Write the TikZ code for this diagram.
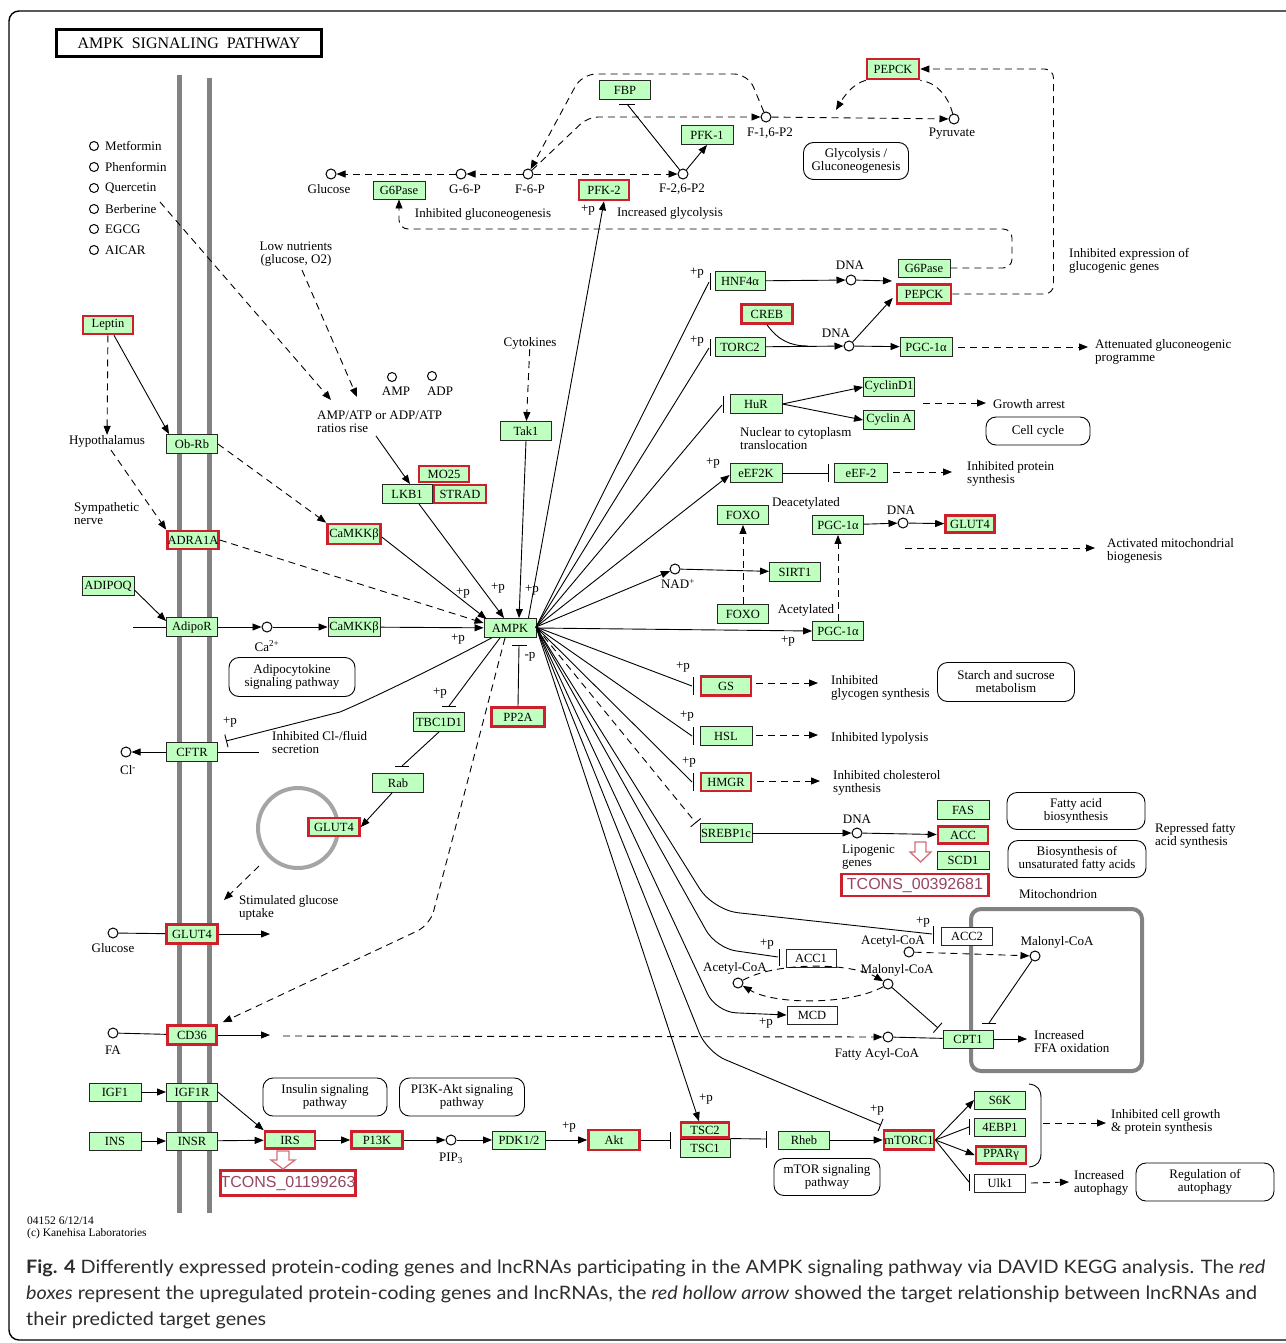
\documentclass[tikz,border=0pt]{standalone}
\usepackage{fontspec}
\usepackage{graphicx}
\setmainfont{Liberation Serif}
\newfontfamily\capfont{Lato}
\newfontfamily\tcfont{Liberation Sans}
\usetikzlibrary{arrows.meta,calc}
\definecolor{kgreen}{RGB}{191,255,191}
\definecolor{kred}{RGB}{205,32,44}
\definecolor{mgray}{RGB}{130,130,130}
\definecolor{vgray}{RGB}{165,165,165}
\definecolor{tcol}{RGB}{150,70,100}
\definecolor{hol}{RGB}{215,110,120}
\definecolor{capcol}{RGB}{45,45,45}
\tikzset{
  kf/.style={font=\fontsize{12.5}{12.5}\selectfont},
  lf/.style={font=\fontsize{13}{13}\selectfont},
  gene/.style={draw=black!85, fill=kgreen, line width=0.9pt, inner sep=0pt, minimum height=19pt, kf},
  rgene/.style={gene, draw=kred, line width=2.6pt, minimum height=18pt},
  wgene/.style={gene, fill=white},
  lbl/.style={inner sep=0pt, lf, align=left},
  lblc/.style={inner sep=0pt, lf, align=center},
  cpd/.style={circle, draw=black, fill=white, line width=1pt, minimum size=10pt, inner sep=0pt},
  mapbox/.style={draw, rounded corners=10pt, line width=0.9pt, inner sep=0pt, lf, align=center},
  ln/.style={line width=0.9pt},
  arr/.style={ln, -{Triangle[length=9pt,width=7pt]}},
  dsh/.style={ln, dash pattern=on 7pt off 5pt},
  darr/.style={dsh, -{Triangle[length=9pt,width=7pt]}},
  inh/.style={ln, -{Bar[width=13pt,line width=0.9pt]}},
  dinh/.style={dsh, -{Bar[width=13pt,line width=0.9pt]}},
  hollow/.style={draw=hol, fill=white, line width=1.3pt, line join=miter},
  tcons/.style={draw=kred, line width=2.6pt, fill=white, inner sep=0pt, minimum height=22pt, font=\tcfont\fontsize{16}{16}\selectfont, text=tcol},
}
\newcommand\kvbar[3]{\draw[ln] (#1,#2) -- (#1,#3);}
\newcommand\khbar[3]{\draw[ln] (#2,#1) -- (#3,#1);}
\begin{document}
\begin{tikzpicture}[x=1pt,y=-1pt]
\useasboundingbox (0,0) rectangle (1285,1343);
\fill[white] (0,0) rectangle (1285,1343);
\draw[line width=1.4pt, rounded corners=10pt] (9,11) rectangle (1310,1340);
\node[draw, line width=2.4pt, minimum width=265pt, minimum height=27pt, inner sep=0pt] (title) at (189,43) {\fontsize{16}{16}\selectfont AMPK\enspace SIGNALING\enspace PATHWAY};
% membranes
\draw[mgray, line width=5pt] (179,75) -- (179,1213);
\draw[mgray, line width=5pt] (209,78) -- (209,1213);
% drugs
\foreach \y/\t in {146/Metformin,167/Phenformin,188/Quercetin,209/Berberine,229/EGCG,250/AICAR} {
  \node[cpd, minimum size=9pt] (drug\y) at (94,\y) {};
  \node[lbl, anchor=west] (drugl\y) at (105,\y) {\t};
}
\node[lblc] (lown) at (296,254) {Low nutrients\\(glucose, O2)};
\coordinate (q1) at (160,202);
\coordinate (q2) at (331,400);
\coordinate (l1) at (302,270);
\coordinate (l2) at (357,397);
\draw[darr] (q1) -- (q2);
\draw[darr] (l1) -- (l2);
\node[cpd, minimum size=9pt] (amp) at (392,377) {};
\node[lbl] (ampl) at (396,391) {AMP};
\node[cpd, minimum size=9pt] (adp) at (432,376) {};
\node[lbl] (adpl) at (440,391) {ADP};
\node[lbl, anchor=west] (ratio) at (317,422) {AMP/ATP or ADP/ATP\\ratios rise};

% ===== top glycolysis =====
\node[rgene, minimum width=52pt, minimum height=20pt] (pepckT) at (893,69) {PEPCK};
\node[gene, minimum width=51pt] (fbp) at (625,90) {FBP};
\node[gene, minimum width=52pt] (pfk1) at (707,135) {PFK-1};
\node[cpd] (f16) at (766,117) {};
\node[lbl] (f16l) at (770,133) {F-1,6-P2};
\node[cpd] (pyr) at (954,119) {};
\node[lbl] (pyrl) at (952,134) {Pyruvate};
\node[mapbox, minimum width=105pt, minimum height=37pt] (glyb) at (856,161) {Glycolysis /\\Gluconeogenesis};
\node[cpd] (glc1) at (331,174) {};
\node[lbl] (glc1l) at (329,189) {Glucose};
\node[gene, minimum width=52pt, minimum height=18pt] (g6pT) at (399,190) {G6Pase};
\node[cpd] (g6p) at (461,174) {};
\node[lbl] (g6pl) at (465,189) {G-6-P};
\node[cpd] (f6p) at (528,174) {};
\node[lbl] (f6pl) at (530,189) {F-6-P};
\node[rgene, minimum width=50pt, minimum height=20pt] (pfk2) at (604,190) {PFK-2};
\node[cpd] (f26) at (683,174) {};
\node[lbl] (f26l) at (682,189) {F-2,6-P2};
\node[lbl] (inhg) at (483,214) {Inhibited gluconeogenesis};
\node[lbl] (pp0) at (588,210) {+p};
\node[lbl] (incg) at (670,213) {Increased glycolysis};
\draw[darr] (f6p) -- (g6p);
\draw[darr] (g6p) -- (glc1);
\draw[darr] (f6p) -- (f26);
\draw[arr] (f26) -- (pfk1.south);
\coordinate (fbpbar) at (627,104);
\draw[ln] (f26) -- (fbpbar);
\draw[ln] ($(fbpbar)+(-8,0)$) -- ($(fbpbar)+(8,0)$);
\draw[darr, rounded corners=10pt] (f6p) -- (588,117) -- (f16);
\draw[darr, rounded corners=14pt] (f16) -- (748,74) -- (582,74) -- (f6p);
\draw[darr] (f16) -- (pyr);
\coordinate (pe1) at (836,110);
\draw[dsh] (pyr) .. controls (948,95) and (935,82) .. (pepckT.south east);
\draw[darr] (pepckT.south west) .. controls (852,84) and (843,98) .. (pe1);

% ===== right upper =====
\node[gene, minimum width=50pt] (hnf) at (740,281) {HNF4α};
\node[rgene, minimum width=51pt, minimum height=19pt] (creb) at (767,314) {CREB};
\node[gene, minimum width=50pt] (torc2) at (740,347) {TORC2};
\node[cpd] (dna1) at (851,280) {};
\node[lbl] (dna1l) at (850,265) {DNA};
\node[cpd] (dna2) at (849,346) {};
\node[lbl] (dna2l) at (836,333) {DNA};
\node[gene, minimum width=52pt, minimum height=18pt] (g6pL) at (924,268) {G6Pase};
\node[rgene, minimum width=54pt, minimum height=19pt] (pepckL) at (924,294) {PEPCK};
\node[gene, minimum width=52pt] (pgc1) at (926,347) {PGC-1α};
\node[lbl] (pp1) at (697,273) {+p};
\node[lbl] (pp2) at (697,341) {+p};
\node[lbl, anchor=west] (inhexp) at (1069,261) {Inhibited expression of\\glucogenic genes};
\node[lbl, anchor=west] (attg) at (1095,352) {Attenuated gluconeogenic\\programme};
\coordinate (gp) at (892,281);
\draw[arr] (hnf) -- (dna1);
\draw[arr] (dna1) -- (gp);
\draw[arr] (torc2) -- (dna2);
\draw[arr] (dna2) -- (pgc1);
\draw[arr] (dna2) -- ($(pepckL.west)+(-3,4)$);
\draw[ln] (creb.south) .. controls (778,340) and (790,346) .. (808,346);
\coordinate (att1) at (958,347);
\coordinate (att2) at (1088,347);
\draw[darr] (att1) -- (att2);
\draw[darr, rounded corners=9pt] (pepckL.east) -- (1053.5,294) -- (1053.5,69) -- (pepckT.east);
\draw[darr, rounded corners=9pt] (g6pL.east) -- (1012,268) -- (1012,229) -- (399,229) -- (g6pT.south);

\node[gene, minimum width=52pt] (hur) at (756,404) {HuR};
\node[gene, minimum width=51pt] (cycd1) at (889,387) {CyclinD1};
\node[gene, minimum width=51pt] (cyca) at (889,420) {Cyclin A};
\node[lbl, anchor=west] (grow) at (993,404) {Growth arrest};
\node[mapbox, minimum width=104pt, minimum height=28pt] (ccb) at (1038,431) {Cell cycle};
\node[lbl, anchor=west] (nuc) at (740,439) {Nuclear to cytoplasm\\translocation};
\draw[arr] (hur.east) -- (cycd1.west);
\draw[arr] (hur.east) -- (cyca.west);
\coordinate (ga1) at (923,403);
\coordinate (ga2) at (986,403);
\draw[darr] (ga1) -- (ga2);

\node[gene, minimum width=52pt] (eef2k) at (756,473) {eEF2K};
\node[gene, minimum width=53pt] (eef2) at (861,473) {eEF-2};
\node[lbl] (pp3) at (713,463) {+p};
\node[lbl, anchor=west] (inhps) at (967,474) {Inhibited protein\\synthesis};
\draw[ln] (eef2k) -- (828,473);
\kvbar{828}{464}{482}
\coordinate (ps1) at (893,472);
\coordinate (ps2) at (952,472);
\draw[darr] (ps1) -- (ps2);

\node[gene, minimum width=51pt] (foxo1) at (743,515) {FOXO};
\node[lbl] (deac) at (806,503) {Deacetylated};
\node[gene, minimum width=51pt] (pgc2) at (838,525) {PGC-1α};
\node[cpd] (dna3) at (903,523) {};
\node[lbl] (dna3l) at (901,510) {DNA};
\node[rgene, minimum width=49pt, minimum height=17pt] (glut4a) at (970,524) {GLUT4};
\node[lbl, anchor=west] (actm) at (1107,551) {Activated mitochondrial\\biogenesis};
\coordinate (am1) at (905,548);
\coordinate (am2) at (1095,548);
\draw[darr] (am1) -- (am2);
\draw[arr] (pgc2) -- (dna3);
\draw[arr] (dna3) -- (glut4a);
\node[gene, minimum width=51pt] (sirt1) at (795,572) {SIRT1};
\node[cpd] (nad) at (675,569) {};
\node[lbl] (nadl) at (678,584) {NAD\textsuperscript{+}};
\draw[arr] (nad) -- (sirt1);
\node[gene, minimum width=51pt] (foxo2) at (743,614) {FOXO};
\node[lbl] (acet) at (806,610) {Acetylated};
\node[gene, minimum width=51pt] (pgc3) at (838,631) {PGC-1α};
\node[lbl] (pp4) at (788,641) {+p};
\draw[darr] (foxo2) -- (foxo1);
\draw[darr] (pgc3) -- (pgc2);

% ===== right middle =====
\node[rgene, minimum width=50pt, minimum height=19pt] (gs) at (726,686) {GS};
\node[gene, minimum width=52pt] (hsl) at (726,736) {HSL};
\node[rgene, minimum width=50pt, minimum height=18pt] (hmgr) at (726,782) {HMGR};
\node[gene, minimum width=52pt] (srebp) at (726,833) {SREBP1c};
\node[lbl] (pp5) at (683,667) {+p};
\node[lbl] (pp6) at (687,716) {+p};
\node[lbl] (pp7) at (689,762) {+p};
\node[lbl, anchor=west] (inhgs) at (831,688) {Inhibited\\glycogen synthesis};
\node[mapbox, minimum width=137pt, minimum height=39pt] (starch) at (1006,682) {Starch and sucrose\\metabolism};
\node[lbl, anchor=west] (inhl) at (831,738) {Inhibited lypolysis};
\node[lbl, anchor=west] (inhc) at (833,783) {Inhibited cholesterol\\synthesis};
\draw[darr] (gs.east) ++(4,-3) -- (818,683);
\draw[darr] (hsl.east) ++(4,-1) -- (818,735);
\draw[darr] (hmgr.east) ++(5,-1) -- (820,781);
\node[cpd] (dna4) at (857,833) {};
\node[lbl] (dna4l) at (857,819) {DNA};
\node[gene, minimum width=52pt] (fas) at (963,810) {FAS};
\node[rgene, minimum width=50pt, minimum height=17pt] (acc) at (963,835) {ACC};
\node[gene, minimum width=52pt, minimum height=18pt] (scd1) at (963,860) {SCD1};
\node[lbl, anchor=west] (lipo) at (842,857) {Lipogenic\\genes};
\draw[arr] (srebp) -- (dna4);
\draw[arr] (dna4) -- (acc);
\draw[hollow] (915,842) -- (926,842) -- (926,852) -- (931,852) -- (920.5,862) -- (910,852) -- (915,852) -- cycle;
\node[tcons, minimum width=147pt] (tc1) at (915,885) {TCONS\_00392681};
\node[mapbox, minimum width=138pt, minimum height=37pt] (fab) at (1076,811) {Fatty acid\\biosynthesis};
\node[mapbox, minimum width=138pt, minimum height=37pt] (ufab) at (1077,859) {Biosynthesis of\\unsaturated fatty acids};
\node[lbl, anchor=west] (repf) at (1155,836) {Repressed fatty\\acid synthesis};
\node[lbl] (mitol) at (1058,894) {Mitochondrion};

% ===== mitochondrion =====
\node[draw=mgray, line width=4pt, rounded corners=10pt, minimum width=171pt, minimum height=162pt, inner sep=0pt] (mito) at (1056.5,990) {};
\node[wgene, minimum width=51pt, minimum height=18pt] (acc2) at (967,936) {ACC2};
\node[lbl] (pp8) at (923,922) {+p};
\node[lbl] (acoa1) at (893,941) {Acetyl-CoA};
\node[cpd] (ac1) at (909,952) {};
\node[cpd] (mal1) at (1035,956) {};
\node[lbl] (mcoa1) at (1057,942) {Malonyl-CoA};
\draw[darr] (ac1) -- (mal1);
\draw[ln] (mal1) -- (989,1023);
\khbar{1023}{982}{996}
\node[wgene, minimum width=50pt, minimum height=18pt] (acc1) at (811,958) {ACC1};
\node[lbl] (pp9) at (767,944) {+p};
\node[lbl] (acoa2) at (735,968) {Acetyl-CoA};
\node[cpd] (ac2) at (738,983) {};
\node[lbl] (mcoa2) at (897,970) {Malonyl-CoA};
\node[cpd] (mal2) at (888,984) {};
\draw[darr] (ac2) .. controls (775,962) and (850,962) .. (mal2);
\draw[darr] (mal2) .. controls (850,1005) and (775,1005) .. (ac2);
\node[wgene, minimum width=50pt, minimum height=18pt] (mcd) at (812,1015) {MCD};
\node[lbl] (pp10) at (766,1023) {+p};
\node[cpd] (fac) at (888,1037) {};
\node[lbl] (facl) at (877,1054) {Fatty Acyl-CoA};
\node[gene, minimum width=50pt, minimum height=18pt] (cpt1) at (968,1039) {CPT1};
\draw[inh] (mal2) -- (938,1028);
\draw[ln] (fac) -- (cpt1);
\coordinate (ffa) at (1027,1039);
\draw[arr] (cpt1) -- (ffa);
\node[lbl, anchor=west] (incffa) at (1034,1042) {Increased\\FFA oxidation};

% ===== left =====
\node[rgene, minimum width=50pt] (leptin) at (108,325) {Leptin};
\node[lbl] (hypo) at (107,441) {Hypothalamus};
\node[gene, minimum width=51pt] (obrb) at (192,444) {Ob-Rb};
\node[lbl, anchor=west] (symp) at (74,514) {Sympathetic\\nerve};
\node[rgene, minimum width=51pt] (adra) at (193,540) {ADRA1A};
\node[rgene, minimum width=53pt, minimum height=20pt] (camkkR) at (354,534) {CaMKKβ};
\node[gene, minimum width=52pt] (adipoq) at (108,586) {ADIPOQ};
\node[gene, minimum width=51pt] (adipor) at (192,627) {AdipoR};
\node[cpd] (ca) at (267,627) {};
\node[lbl] (cal) at (267,646) {Ca\textsuperscript{2+}};
\node[gene, minimum width=52pt] (camkkG) at (354,627) {CaMKKβ};
\node[gene, minimum width=52pt] (ampk) at (510,628) {AMPK};
\node[gene, minimum width=50pt] (lkb1) at (407,494) {LKB1};
\node[rgene, minimum width=52pt, minimum height=18pt] (strad) at (460,494) {STRAD};
\node[rgene, minimum width=50pt, minimum height=16pt] (mo25) at (444,474) {MO25};
\node[lbl] (cyto) at (530,343) {Cytokines};
\node[gene, minimum width=51pt] (tak1) at (526,431) {Tak1};
\node[mapbox, minimum width=126pt, minimum height=39pt] (adipob) at (292,677) {Adipocytokine\\signaling pathway};
\node[lbl] (pp11) at (463,593) {+p};
\node[lbl] (pp12) at (498,588) {+p};
\node[lbl] (pp13) at (532,590) {+p};
\node[lbl] (pp14) at (458,639) {+p};
\coordinate (rr) at (376,436);
\draw[arr] (rr) -- ($(lkb1.north)+(3,0)$);
\draw[darr] (leptin) -- (hypo);
\draw[arr] ($(leptin.south)+(6,0)$) -- ($(obrb.north west)+(3,0)$);
\draw[darr] ($(hypo.south)+(4,3)$) -- (adra.north west);
\draw[darr] (obrb.east) -- (camkkR.north west);
\draw[darr] (adra.east) -- ($(ampk.west)+(0,-5)$);
\draw[arr] ($(camkkR.east)+(0,3)$) -- ($(ampk.north west)+(3,1)$);
\draw[arr] ($(lkb1.south)+(12,0)$) -- ($(ampk.north)+(-6,0)$);
\draw[arr] (tak1.south) -- ($(ampk.north)+(9,0)$);
\draw[darr] (cyto) -- (tak1);
\draw[arr] ($(adipoq.east)+(0,4)$) -- ($(adipor.west)+(0,-6)$);
\coordinate (arin) at (133,627);
\draw[ln] (arin) -- (adipor.west);
\draw[arr] (adipor) -- (ca);
\draw[arr] (ca) -- (camkkG);
\draw[arr] (camkkG) -- (ampk);
\draw[arr] ($(ampk.north east)+(-8,0)$) -- (pfk2.south);

\node[rgene, minimum width=53pt, minimum height=19pt] (pp2a) at (518,717) {PP2A};
\node[gene, minimum width=51pt] (tbc) at (439,722) {TBC1D1};
\node[gene, minimum width=51pt] (rab) at (398,783) {Rab};
\node[circle, draw=vgray, line width=4pt, minimum size=80pt, inner sep=0pt] (vesicle) at (298,828) {};
\node[rgene, minimum width=51pt, minimum height=18pt] (glut4v) at (334,827) {GLUT4};
\node[lbl, anchor=west] (stim) at (239,908) {Stimulated glucose\\uptake};
\node[gene, minimum width=51pt] (cftr) at (192,752) {CFTR};
\node[cpd] (cl) at (126,752) {};
\node[lbl] (cll) at (128,770) {Cl\textsuperscript{-}};
\node[lbl, anchor=west] (inhcl) at (272,742) {Inhibited Cl-/fluid\\secretion};
\node[lbl] (pp15) at (230,722) {+p};
\node[lbl] (pp16) at (440,693) {+p};
\node[lbl] (mp) at (530,657) {-p};
\node[rgene, minimum width=51pt, minimum height=19pt] (glut4m) at (192,934) {GLUT4};
\node[cpd] (glc2) at (113,933) {};
\node[lbl] (glc2l) at (113,948) {Glucose};
\node[rgene, minimum width=49pt, minimum height=19pt] (cd36) at (192,1035) {CD36};
\node[cpd] (fa) at (113,1033) {};
\node[lbl] (fal) at (113,1050) {FA};
\draw[inh] ($(ampk.south west)+(8,0)$) .. controls (450,660) and (380,695) .. (340,712) -- (226,741);
\coordinate (cfo) at (259,752);
\draw[ln] (cftr.east) -- (cfo);
\draw[arr] (cftr) -- (cl);
\draw[ln] ($(ampk.south)+(-10,0)$) -- (449,706);
\khbar{706}{442}{456}
\draw[ln] (tbc.south) -- (402,766);
\khbar{766}{395}{409}
\draw[arr] ($(rab.south)+(-6,0)$) -- (glut4v.east);
\draw[ln] (pp2a.north) -- (519,645);
\khbar{645}{512}{527}
\coordinate (vs) at (259,866);
\coordinate (vt) at (224,900);
\draw[darr] (vs) -- (vt);
\coordinate (go) at (270,934);
\draw[ln] (glc2) -- (glut4m);
\draw[arr] (glut4m.east) -- (go);
\coordinate (co) at (270,1035);
\draw[ln] (fa) -- (cd36);
\draw[arr] (cd36.east) -- (co);
\coordinate (cdd) at (283,1036);
\draw[darr] (cdd) -- (fac);
\draw[darr, rounded corners=14pt] ($(ampk.south)+(-5,0)$) -- (430,925) -- ($(cd36.north east)+(5,-2)$);

% ===== AMPK fan =====
\coordinate (hub) at (536,627);
\draw[ln] (hub) -- (709,282); \kvbar{710}{273}{290}
\draw[ln] (hub) -- (709,348); \kvbar{710}{339}{356}
\draw[ln] (hub) -- (722,405); \kvbar{723}{396}{413}
\draw[arr] (hub) -- ($(eef2k.west)+(0,2)$);
\draw[arr] (hub) -- (nad);
\draw[arr] (ampk.east) -- (pgc3.west);
\draw[ln] (hub) -- (692,686); \kvbar{693}{677}{695}
\draw[ln] (hub) -- (692,736); \kvbar{693}{727}{745}
\draw[ln] (hub) -- (692,782); \kvbar{693}{773}{791}
\draw[dinh] (hub) -- (696,823);
\draw[ln, rounded corners=25pt] (hub) -- (713,910) -- (932,934); \kvbar{933}{926}{944}
\draw[ln, rounded corners=20pt] (hub) -- (716,948) -- (778,957); \kvbar{779}{949}{966}
\draw[arr, rounded corners=20pt] (hub) -- (716,1012) -- (mcd.west);
\draw[inh, rounded corners=20pt] (hub) -- (707,1052) -- (881,1125);

% ===== bottom =====
\node[gene, minimum width=52pt, minimum height=18pt] (igf1) at (115,1092) {IGF1};
\node[gene, minimum width=51pt, minimum height=18pt] (igf1r) at (192,1092) {IGF1R};
\node[gene, minimum width=52pt, minimum height=18pt] (ins) at (115,1141) {INS};
\node[gene, minimum width=51pt, minimum height=18pt] (insr) at (192,1141) {INSR};
\node[mapbox, minimum width=124pt, minimum height=38pt] (insb) at (325,1097) {Insulin signaling\\pathway};
\node[mapbox, minimum width=125pt, minimum height=38pt] (pi3kb) at (462,1097) {PI3K-Akt signaling\\pathway};
\node[rgene, minimum width=50pt, minimum height=17pt] (irs) at (290,1140) {IRS};
\node[rgene, minimum width=51pt, minimum height=17pt] (p13k) at (377,1140) {P13K};
\node[cpd] (pip3) at (451,1140) {};
\node[lbl] (pip3l) at (451,1158) {PIP\textsubscript{3}};
\node[gene, minimum width=53pt, minimum height=18pt] (pdk) at (519,1140) {PDK1/2};
\node[rgene, minimum width=51pt, minimum height=20pt] (akt) at (614,1140) {Akt};
\node[lbl] (pp17) at (569,1127) {+p};
\node[gene, minimum width=50pt, minimum height=18pt] (tsc1) at (705,1148) {TSC1};
\node[rgene, minimum width=48pt, minimum height=15pt] (tsc2) at (705,1130) {TSC2};
\node[lbl] (pp18) at (706,1099) {+p};
\node[gene, minimum width=51pt, minimum height=18pt] (rheb) at (804,1140) {Rheb};
\node[rgene, minimum width=50pt, minimum height=19pt] (mtorc1) at (909,1140) {mTORC1};
\node[lbl] (pp19) at (877,1110) {+p};
\node[gene, minimum width=51pt, minimum height=18pt] (s6k) at (1000,1100) {S6K};
\node[gene, minimum width=51pt, minimum height=18pt] (ebp) at (1000,1127) {4EBP1};
\node[rgene, minimum width=50pt, minimum height=17pt] (ppar) at (1001,1155) {PPARγ};
\node[wgene, minimum width=51pt, minimum height=18pt] (ulk1) at (1000,1183) {Ulk1};
\node[mapbox, minimum width=106pt, minimum height=37pt] (mtorb) at (827,1177) {mTOR signaling\\pathway};
\node[mapbox, minimum width=138pt, minimum height=38pt] (autob) at (1205,1182) {Regulation of\\autophagy};
\node[lbl, anchor=west] (inhcg) at (1111,1122) {Inhibited cell growth\\\& protein synthesis};
\node[lbl, anchor=west] (incau) at (1074,1183) {Increased\\autophagy};
\node[tcons, minimum width=131pt, minimum height=25pt] (tc2) at (288,1183) {TCONS\_01199263};
\draw[hollow] (277,1151) -- (289,1151) -- (289,1160) -- (295,1160) -- (283,1169) -- (271,1160) -- (277,1160) -- cycle;
\draw[arr] (hub) -- ($(tsc2.north)+(-6,0)$);
\draw[arr] (igf1) -- (igf1r);
\draw[arr] (ins) -- (insr);
\draw[arr] (igf1r.east) -- (irs.north west);
\draw[arr] (insr) -- (irs);
\draw[arr] (irs) -- (p13k);
\draw[arr] (p13k) -- (pip3);
\draw[arr] (pip3) -- (pdk);
\draw[arr] (pdk) -- (akt);
\draw[ln] (akt) -- (670,1140); \kvbar{670}{1132}{1149}
\draw[ln] (tsc1.north east) -- (766,1139); \kvbar{766}{1131}{1148}
\draw[arr] (rheb) -- (mtorc1);
\draw[arr] (mtorc1.east) -- (s6k.west);
\draw[ln] (mtorc1.east) -- (969,1127); \kvbar{969}{1119}{1135}
\draw[arr] (mtorc1.east) -- (ppar.west);
\draw[ln] (mtorc1.east) -- (969,1182); \kvbar{969}{1174}{1191}
\draw[ln] (1029,1084) .. controls (1038,1085) and (1041,1090) .. (1041,1098) -- (1041,1153) .. controls (1041,1161) and (1038,1166) .. (1029,1167);
\coordinate (br1) at (1043,1123);
\coordinate (br2) at (1106,1123);
\draw[darr] (br1) -- (br2);
\coordinate (au2) at (1069,1182);
\draw[darr] ($(ulk1.east)+(5,0)$) -- (au2);

% ===== footer =====
\node[lbl, anchor=west, font=\fontsize{11.5}{12.5}\selectfont] (kan) at (27,1228) {04152 6/12/14\\(c) Kanehisa Laboratories};
\node[anchor=west, inner sep=0pt, text=capcol] (cap1) at (26,1268) {\resizebox{1239pt}{\height}{\capfont\fontsize{18.5}{18.5}\selectfont\textbf{Fig. 4} Differently expressed protein-coding genes and lncRNAs participating in the AMPK signaling pathway via DAVID KEGG analysis. The \textit{red}}};
\node[anchor=west, inner sep=0pt, text=capcol] (cap2) at (26,1294) {\resizebox{1231pt}{\height}{\capfont\fontsize{18.5}{18.5}\selectfont\textit{boxes} represent the upregulated protein-coding genes and lncRNAs, the \textit{red hollow arrow} showed the target relationship between lncRNAs and}};
\node[anchor=west, inner sep=0pt, text=capcol] (cap3) at (26,1320) {\resizebox{240pt}{\height}{\capfont\fontsize{18.5}{18.5}\selectfont their predicted target genes}};
\end{tikzpicture}
\end{document}
